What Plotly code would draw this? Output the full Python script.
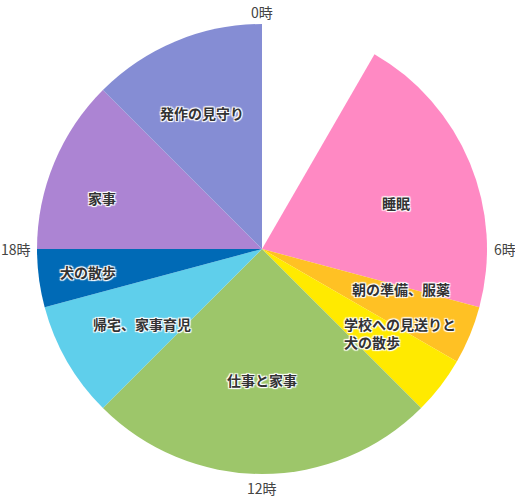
import math
import plotly.graph_objects as go

# Data: 24-hour schedule (hours per activity, clockwise from 0時)
activities = ["", "睡眠", "朝の準備、服薬", "学校への見送りと<br>犬の散歩", "仕事と家事",
              "帰宅、家事育児", "犬の散歩", "家事", "発作の見守り"]
hours = [2, 5, 1, 1, 6, 2, 1, 3, 3]
colors = ["#FFFFFF", "#FF89C3", "#FFC124", "#FFEA00", "#9DC66A",
          "#5FCFEB", "#006AB6", "#AC84D3", "#858DD4"]
hour_ticks = [0, 6, 12, 18]
hour_tick_labels = ["0時", "6時", "12時", "18時"]

# label placement (angle offset in degrees from slice middle, radius fraction)
label_offsets = [0, 3.6, -6.4, -6.2, 0, -1.9, 0, -4.9, -1.3]
label_radius = [0, 0.63, 0.643, 0.718, 0.58, 0.63, 0.78, 0.748, 0.66]

W, H = 515, 497
L, R, T, B = 37, 28, 24, 23

fig = go.Figure(go.Pie(
    labels=[str(i) for i in range(len(hours))],
    values=hours,
    sort=False,
    direction="clockwise",
    rotation=0,
    marker=dict(colors=colors, line=dict(width=0)),
    textinfo="none",
    hoverinfo="skip",
    showlegend=False,
    domain=dict(x=[0, 1], y=[0, 1]),
))

shadow = "1px 1px 1px #fff, -1px -1px 1px #fff, 1px -1px 1px #fff, -1px 1px 1px #fff, 0 0 2px #fff"
annotations = []
total = sum(hours)
cum = 0
for i, (name, v) in enumerate(zip(activities, hours)):
    mid = (cum + v / 2) / total * 360 + label_offsets[i]
    cum += v
    if not name:
        continue
    r = label_radius[i]
    a = math.radians(mid)
    annotations.append(dict(
        x=0.5 + 0.5 * r * math.sin(a), y=0.5 + 0.5 * r * math.cos(a),
        xref="paper", yref="paper", text=name, showarrow=False,
        align="left", xanchor="center", yanchor="middle",
        font=dict(family="Noto Sans CJK JP", size=14, color="#333333",
                  weight="bold", shadow=shadow),
    ))

for h, t in zip(hour_ticks, hour_tick_labels):
    a = math.radians(h / 24 * 360)
    s, c = math.sin(a), math.cos(a)
    if abs(s) > 0.5:
        r = 1.02
        xa = "left" if s > 0 else "right"
    else:
        r = 1.055 if c > 0 else 1.06
        xa = "center"
    annotations.append(dict(
        x=0.5 + 0.5 * r * s, y=0.5 + 0.5 * r * c,
        xref="paper", yref="paper", text=t, showarrow=False,
        xanchor=xa, yanchor="middle",
        font=dict(family="Noto Sans CJK JP", size=14, color="#444444"),
    ))

fig.update_layout(
    width=W, height=H,
    margin=dict(l=L, r=R, t=T, b=B),
    paper_bgcolor="white", plot_bgcolor="white",
    annotations=annotations,
)

fig.write_html("out.html",
               config={"displayModeBar": False},
               post_script="document.body.style.margin='0';document.body.style.overflow='hidden';")
